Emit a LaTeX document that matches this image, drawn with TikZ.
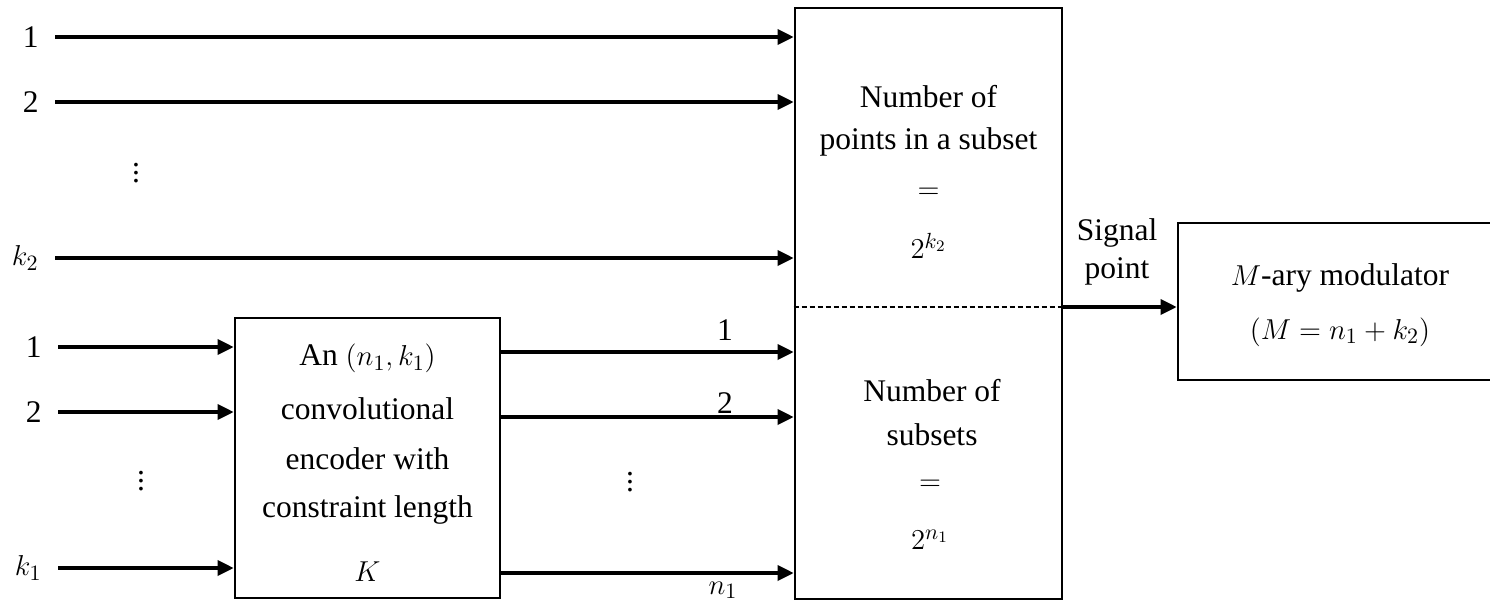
\documentclass[tikz,border=0pt]{standalone}
\usepackage{fontspec}
\setmainfont{Liberation Serif}
\usetikzlibrary{arrows.meta}

\tikzset{
  blk/.style={draw, line width=1.3pt, inner sep=0pt},
  sig/.style={line width=1.7pt, -{Triangle[length=8pt,width=7.5pt]}},
  lbl/.style={anchor=east, inner xsep=8pt, inner ysep=0pt},
  txt/.style={align=center, inner sep=0pt},
}

\begin{document}
\begin{tikzpicture}[x=0.5pt,y=-0.5pt,font=\fontsize{15.75pt}{19pt}\selectfont]
\useasboundingbox (0,0) rectangle (1490,606);
% blocks
\node[blk, minimum width=132.5pt, minimum height=140pt] (enc) at (367.5,458) {};
\node[blk, minimum width=133.5pt, minimum height=295.5pt] (map) at (928.5,303.5) {};
\node[blk, minimum width=162pt, minimum height=78.5pt] (mod) at (1340,301.5) {};
\coordinate (split) at (928.5,307);
\draw[dashed, line width=0.7pt, dash pattern=on 2.5pt off 1.5pt] (map.west |- split) -- (map.east |- split);

% uncoded bits
\foreach \n/\t/\y in {u1/1/37, u2/2/102, uk/$k_2$/258}{
  \node[lbl] (\n) at (55,\y) {\t};
  \draw[sig] (\n.east) -- (map.west |- \n.east);
}
\node (ud) at (136,167) {$\vdots$};

% coded bits
\foreach \n/\t/\y in {l1/1/347, l2/2/412, lk/$k_1$/568}{
  \node[lbl] (\n) at (58,\y) {\t};
  \draw[sig] (\n.east) -- (enc.west |- \n.east);
}
\node (ld) at (141,475) {$\vdots$};
\foreach \y in {352,417,573}
  \draw[sig] (enc.east |- 0,\y) -- (map.west |- 0,\y);
\node (o1) at (725,330) {1};
\node (o2) at (725,403) {2};
\node (on) at (723,590) {$n_1$};
\node (od) at (630,476) {$\vdots$};

% texts
\node[txt] (enct) at (367.5,463) {An $(n_1,k_1)$\\[8pt]convolutional\\[6pt]encoder with\\[5pt]constraint length\\[13pt]$K$};
\node[txt] (ptsa) at (928.5,121) {Number of\\[2pt]points in a subset};
\node (eqa) at (928.5,193) {$=$};
\node (pwa) at (928.5,246) {$2^{k_2}$};
\node[txt] (nsub) at (932,413) {Number of\\[3pt]subsets};
\node (eqb) at (930,485) {$=$};
\node (pwb) at (930,540) {$2^{n_1}$};

% output
\node[txt] (sp) at (1117,252) {Signal\\point};
\draw[sig] (map.east |- split) -- (mod.west |- split);
\node[txt] (modt) at (1340,305) {$M$-ary modulator\\[8pt]$(M=n_1+k_2)$};
\end{tikzpicture}
\end{document}
